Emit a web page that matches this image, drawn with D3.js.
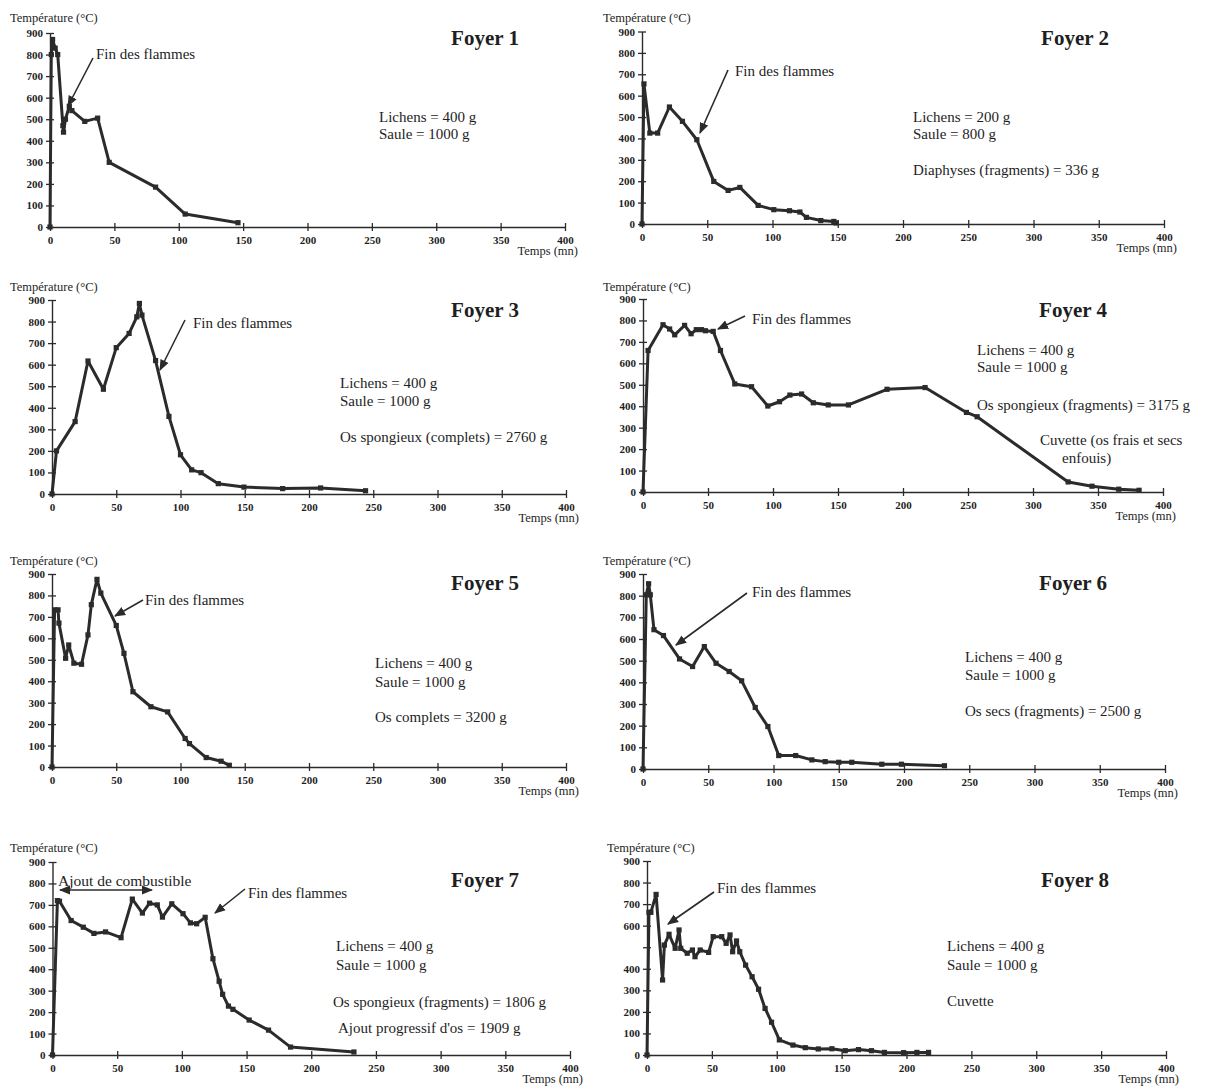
<!DOCTYPE html>
<html><head><meta charset="utf-8">
<script src="https://cdn.jsdelivr.net/npm/d3@7"></script>
<style>
body{margin:0;background:#fff}
svg{display:block}
text{font-family:"Liberation Serif","Times New Roman",serif;fill:#1e1e1e}
</style>
</head><body>
<svg id="c" width="1210" height="1089"></svg>
<script>
// ---------- data ----------
const xTicks = [0, 50, 100, 150, 200, 250, 300, 350, 400];
const yTicks = [0, 100, 200, 300, 400, 500, 600, 700, 800, 900];
const yTicksUnlabelled8 = [500];
const titles = ["Foyer 1", "Foyer 2", "Foyer 3", "Foyer 4", "Foyer 5", "Foyer 6", "Foyer 7", "Foyer 8"];
const yLabel = "Température (°C)";
const xLabel = "Temps (mn)";
const finLabel = "Fin des flammes";
const ajoutLabel = "Ajout de combustible";

const foyer1 = [[0,0],[1,800],[2,870],[4,830],[6,800],[10,470],[10.5,440],[12,500],[15,560],[17,540],[27,490],[37,505],[46,300],[82,185],[105,60],[146,20]];
const foyer2 = [[0,0],[1.5,655],[6,425],[12,425],[21,547],[31,480],[42,394],[55,199],[66,157],[75,171],[89,87],[101,67],[113,62],[121,56],[126,31],[137,16],[147,12],[148.7,5]];
const foyer3 = [[0,0],[3.5,200],[18,336],[28,617],[40,486],[50,679],[60,745],[66,822],[68,884],[70,830],[80.6,619],[91,360],[100,182],[108.7,112],[116,99],[129.4,48],[149.4,32],[179.5,25],[209,28],[244,15]];
const foyer4 = [[0,0],[3.9,660],[15.4,780],[20.5,760],[24.4,733],[32,777],[37,738],[41,757],[45,757],[48,752],[54,749],[59.6,660],[70.6,504],[83.5,491],[96,401],[105,421],[113,452],[122,457],[131,416],[142.5,406],[158,406],[187.7,479],[217,487],[248.8,371],[257,351],[327,47],[345.4,27],[366,13],[381.6,8]];
const foyer5 = [[0,0],[2,733],[4.7,733],[5.4,671],[10.6,507],[13,569],[17,484],[23,479],[28,616],[30.6,757],[35,875],[38,811],[50,660],[56,530],[63,351],[77,281],[90,257],[103.6,133],[107,109],[120,44],[131.6,27],[138,8]];
const foyer6 = [[0,0],[2.5,804],[4.3,855],[5.6,804],[8.4,643],[15.7,616],[28,508],[38,473],[47,565],[56,488],[66,450],[75.6,407],[86,284],[95.7,196],[104,62],[117,62],[129.4,42],[139.6,34],[150,31],[160,31],[183,22],[198,22],[231,15]];
const foyer7 = [[0,0],[3.8,720],[5.4,717],[14.4,627],[23.8,596],[32,567],[41,574],[53,547],[61.7,727],[69.5,662],[75,708],[81,700],[85,643],[92.2,705],[100.9,659],[106.6,616],[111.4,612],[118,642],[124,449],[128.8,344],[131.5,283],[136,228],[139.5,213],[152,163],[167,116],[184,37],[233,14]];
const foyer8 = [[0,0],[1.5,662],[3,662],[7,745],[12,348],[13.4,510],[17,560],[21.7,495],[24.7,580],[26,495],[31,472],[35,487],[37,456],[41,487],[47.5,476],[51,549],[57.6,549],[61,518],[64,557],[66,479],[69,529],[71.5,479],[76,417],[81,363],[86,305],[91,216],[96,152],[102,70],[112.5,46],[122,34],[132,28],[142.5,29],[152.8,20],[163,25],[173,20],[183,12],[197.8,11],[208,12],[217,12]];
const series = [foyer1, foyer2, foyer3, foyer4, foyer5, foyer6, foyer7, foyer8];

const notes = [
  ["Lichens = 400 g", "Saule = 1000 g"],
  ["Lichens = 200 g", "Saule = 800 g", "Diaphyses (fragments) = 336 g"],
  ["Lichens = 400 g", "Saule = 1000 g", "Os spongieux (complets) = 2760 g"],
  ["Lichens = 400 g", "Saule = 1000 g", "Os spongieux (fragments) = 3175 g", "Cuvette (os frais et secs", "enfouis)"],
  ["Lichens = 400 g", "Saule = 1000 g", "Os complets = 3200 g"],
  ["Lichens = 400 g", "Saule = 1000 g", "Os secs (fragments) = 2500 g"],
  ["Lichens = 400 g", "Saule = 1000 g", "Os spongieux (fragments) = 1806 g", "Ajout progressif d'os = 1909 g"],
  ["Lichens = 400 g", "Saule = 1000 g", "Cuvette"]
];

// ---------- layout (positions only) ----------
const layout = [
  {x0:50, x1:565, y0:227, y1:33, yl:[10,18], title:[485,38], fin:[96,54], arrow:[93,58,68,106], notePos:[[379,117],[379,134]]},
  {x0:642, x1:1164, y0:224, y1:31.5, yl:[603,18], title:[1075,38], fin:[735,71], arrow:[728,70,700,133], notePos:[[913,117],[913,134],[913,170]]},
  {x0:52, x1:566, y0:494, y1:300, yl:[10,287], title:[485,310], fin:[193,323], arrow:[185,320,160,370], notePos:[[340,383],[340,401],[340,437]]},
  {x0:643, x1:1163, y0:492, y1:299, yl:[603,287], title:[1073,310], fin:[752,319], arrow:[745,316,718,329], notePos:[[977,350],[977,367],[977,405],[1040,440],[1062,458]]},
  {x0:52, x1:566, y0:767, y1:574, yl:[10,561], title:[485,583], fin:[145,600], arrow:[143,600,115,616], notePos:[[375,663],[375,682],[375,717]]},
  {x0:643, x1:1165, y0:769, y1:574, yl:[603,561], title:[1073,583], fin:[752,592], arrow:[747,593,676,645], notePos:[[965,657],[965,675],[965,711]]},
  {x0:52.5, x1:570, y0:1055, y1:862, yl:[10,848], title:[485,880], fin:[248,893], arrow:[245,889,215,913], notePos:[[336,946],[336,965],[333,1002],[338,1028]]},
  {x0:647, x1:1166, y0:1055, y1:861, yl:[607,848], title:[1075,880], fin:[717,888], arrow:[714,892,668,924], notePos:[[947,946],[947,965],[947,1001]]}
];

const ink = "#2b2b2b";
const svg = d3.select("#c");
const defs = svg.append("defs");
defs.append("marker").attr("id","ah").attr("viewBox","0 0 10 10").attr("refX",9).attr("refY",5)
  .attr("markerWidth",7).attr("markerHeight",7).attr("orient","auto-start-reverse")
  .append("path").attr("d","M0,1 L10,5 L0,9 z").attr("fill",ink);

layout.forEach((L, i) => {
  const g = svg.append("g");
  const x = d3.scaleLinear().domain([0, 400]).range([L.x0, L.x1]);
  const y = d3.scaleLinear().domain([0, 900]).range([L.y0, L.y1]);

  // x axis
  const xa = g.append("g").attr("transform", `translate(0,${L.y0})`)
    .call(d3.axisBottom(x).tickValues(xTicks).tickSize(4).tickSizeOuter(0).tickFormat(d3.format("d")));
  xa.select(".domain").attr("stroke", ink).attr("stroke-width", 1.4);
  xa.selectAll(".tick line").attr("y1", -4).attr("y2", 4).attr("stroke", ink).attr("stroke-width", 1.3);
  xa.selectAll(".tick text").attr("y", 9).attr("font-size", 11).attr("font-weight", "bold")
    .style("font-family", '"Liberation Serif",serif').attr("fill", "#1e1e1e");

  // y axis
  const ya = g.append("g").attr("transform", `translate(${L.x0},0)`)
    .call(d3.axisLeft(y).tickValues(yTicks).tickSize(4).tickSizeOuter(0)
      .tickFormat(d => (i === 7 && yTicksUnlabelled8.includes(d)) ? "" : d));
  ya.select(".domain").attr("stroke", ink).attr("stroke-width", 1.4);
  ya.selectAll(".tick line").attr("x1", -4).attr("x2", 4).attr("stroke", ink).attr("stroke-width", 1.3);
  ya.selectAll(".tick text").attr("x", -7).attr("font-size", 11).attr("font-weight", "bold")
    .style("font-family", '"Liberation Serif",serif').attr("fill", "#1e1e1e");

  // axis labels
  g.append("text").attr("x", L.yl[0]).attr("y", L.yl[1] + 4).attr("font-size", 12.5).text(yLabel);
  g.append("text").attr("x", L.x1 + 13).attr("y", L.y0 + 28).attr("text-anchor", "end").attr("font-size", 12.5).text(xLabel);

  // line + markers
  const data = series[i];
  const line = d3.line().x(d => x(d[0])).y(d => y(d[1]));
  g.append("path").datum(data).attr("d", line).attr("fill", "none")
    .attr("stroke", ink).attr("stroke-width", 3).attr("stroke-linejoin", "round");
  g.selectAll("rect.m").data(data).join("rect").attr("class", "m")
    .attr("x", d => x(d[0]) - 2.6).attr("y", d => y(d[1]) - 2.6)
    .attr("width", 5.2).attr("height", 5.2).attr("fill", ink);

  // title
  g.append("text").attr("x", L.title[0]).attr("y", L.title[1] + 7).attr("text-anchor", "middle")
    .attr("font-size", 21).attr("font-weight", "bold").text(titles[i]);

  // fin des flammes
  g.append("text").attr("x", L.fin[0]).attr("y", L.fin[1] + 5).attr("font-size", 15).text(finLabel);
  g.append("line").attr("x1", L.arrow[0]).attr("y1", L.arrow[1]).attr("x2", L.arrow[2]).attr("y2", L.arrow[3])
    .attr("stroke", ink).attr("stroke-width", 1.6).attr("marker-end", "url(#ah)");

  // notes
  notes[i].forEach((t, k) => {
    g.append("text").attr("x", L.notePos[k][0]).attr("y", L.notePos[k][1] + 5).attr("font-size", 15).text(t);
  });

  if (i === 6) {
    g.append("text").attr("x", 58).attr("y", 886).attr("font-size", 15.5).text(ajoutLabel);
    g.append("line").attr("x1", 60).attr("y1", 890).attr("x2", 152).attr("y2", 890)
      .attr("stroke", ink).attr("stroke-width", 1.6)
      .attr("marker-start", "url(#ah)").attr("marker-end", "url(#ah)");
  }
});
</script>
</body></html>
